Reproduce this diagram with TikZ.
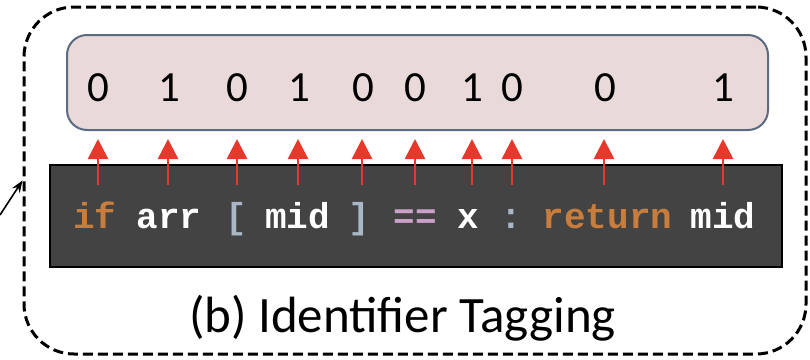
\documentclass[tikz,border=0pt]{standalone}
\usepackage{fontspec}
\setmainfont{Carlito}
\newfontfamily\codefont{Liberation Mono}[BoldFont={* Bold}]
\usetikzlibrary{arrows.meta}
\definecolor{pinkfill}{HTML}{E9D9D9}
\definecolor{pinkborder}{HTML}{5A6B82}
\definecolor{darkfill}{HTML}{434343}
\definecolor{tagred}{HTML}{E8382B}
\definecolor{kwor}{HTML}{C87D3C}
\definecolor{brk}{HTML}{A9B7C6}
\definecolor{eqc}{HTML}{C8A0C8}
\tikzset{
  outerbox/.style={draw=black, line width=3pt, dash pattern=on 10pt off 5pt, rounded corners=50pt, inner sep=0pt},
  pinkbox/.style={draw=pinkborder, fill=pinkfill, line width=2pt, rounded corners=20pt, inner sep=0pt},
  darkbox/.style={draw=black, fill=darkfill, line width=2pt, inner sep=0pt},
  digit/.style={font=\fontsize{43}{43}\selectfont, inner sep=0pt},
  tok/.style={font=\fontsize{36}{36}\selectfont\codefont\bfseries, inner sep=0pt, anchor=base},
  tagarrow/.style={draw=tagred, line width=2.6pt, -{Triangle[length=20pt,width=20pt]}},
  caption/.style={font=\fontsize{51}{51}\selectfont, inner sep=0pt, anchor=base}
}
\begin{document}
\begin{tikzpicture}[x=1pt,y=1pt]
\useasboundingbox (0,0) rectangle (810,-359);
\node[outerbox, minimum width=782pt, minimum height=347pt] (outer) at (415,-180.5) {};
\node[pinkbox, minimum width=701pt, minimum height=95pt] (pink) at (417.5,-82.5) {};
\node[darkbox, minimum width=732pt, minimum height=102pt] (dark) at (416,-216) {};
% digits
\node[digit] (d1) at (98,-87.5) {0};
\node[digit] (d2) at (169,-87.5) {1};
\node[digit] (d3) at (237,-87.5) {0};
\node[digit] (d4) at (299,-87.5) {1};
\node[digit] (d5) at (363,-87.5) {0};
\node[digit] (d6) at (415,-87.5) {0};
\node[digit] (d7) at (472,-87.5) {1};
\node[digit] (d8) at (512,-87.5) {0};
\node[digit] (d9) at (605,-87.5) {0};
\node[digit] (d10) at (723,-87.5) {1};
% tokens
\node[tok, text=kwor] (t1) at (94.7,-228) {if};
\node[tok, text=white] (t2) at (169,-228) {arr};
\node[tok, text=brk] (t3) at (236,-228) {[};
\node[tok, text=white] (t4) at (297.5,-228) {mid};
\node[tok, text=brk] (t5) at (359,-228) {]};
\node[tok, text=eqc] (t6) at (415,-228) {==};
\node[tok, text=white] (t7) at (468,-228) {x};
\node[tok, text=brk] (t8) at (511,-228) {:};
\node[tok, text=kwor] (t9) at (607.5,-228) {return};
\node[tok, text=white] (t10) at (723,-228) {mid};
% arrows
\foreach \x in {98,168,237,298,362,415,472,512,604,723}{
  \draw[tagarrow] ([yshift=-21pt]dark.north -| \x,0) -- ([yshift=-8pt]pink.south -| \x,0);
}
\node[caption] (cap) at (402.5,-332) {(b) Identifier Tagging};
\coordinate (lin) at (0,-215);
\draw[line width=1.6pt, -{Stealth[length=12pt,width=9pt]}] (lin) -- (outer.west);
\end{tikzpicture}
\end{document}
